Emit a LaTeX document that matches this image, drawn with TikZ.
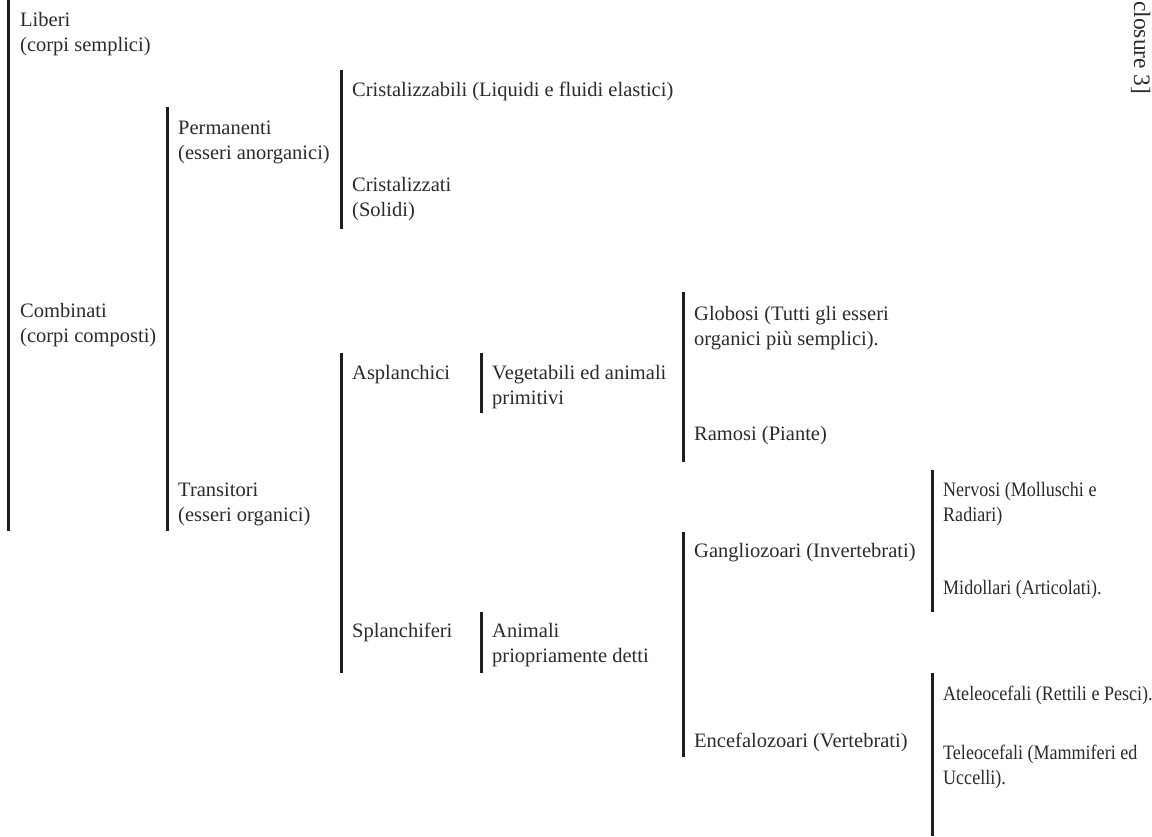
\documentclass[tikz,border=0pt]{standalone}
\usepackage{fontspec}
\setmainfont{Liberation Serif}
\usepackage{graphicx}
\definecolor{ink}{HTML}{2B2B2B}
\definecolor{barc}{HTML}{1E1E1E}
\newcommand{\twol}[1]{\begin{tabular}[t]{@{}l@{}}#1\end{tabular}}
\newcommand{\cnd}[1]{\scalebox{0.88}[1]{\twol{#1}}}
\begin{document}
\begin{tikzpicture}[x=1pt,y=-1pt,
  lbl/.style={anchor=base west, inner sep=0pt, text=ink, font=\fontsize{20.5}{25}\selectfont},
  bar/.style={draw=barc, line width=3pt}]
\useasboundingbox (0,0) rectangle (1152,836);
% bars
\draw[bar] (8,0) -- (8,531);
\draw[bar] (167,107) -- (167,531);
\draw[bar] (341,70) -- (341,229);
\draw[bar] (341,353) -- (341,673);
\draw[bar] (481,353) -- (481,413);
\draw[bar] (481,612) -- (481,673);
\draw[bar] (683,292) -- (683,462);
\draw[bar] (683,532) -- (683,757);
\draw[bar] (932,470) -- (932,612);
\draw[bar] (932,673) -- (932,836);
% labels
\node[lbl] (liberi) at (20,26) {\twol{Liberi\\(corpi semplici)}};
\node[lbl] (combinati) at (20,317) {\twol{Combinati\\(corpi composti)}};
\node[lbl] (perm) at (178,134) {\twol{Permanenti\\(esseri anorganici)}};
\node[lbl] (trans) at (178,496) {\twol{Transitori\\(esseri organici)}};
\node[lbl] (crz) at (352,96) {Cristalizzabili (Liquidi e fluidi elastici)};
\node[lbl] (crt) at (352,191) {\twol{Cristalizzati\\(Solidi)}};
\node[lbl] (aspl) at (352,379) {Asplanchici};
\node[lbl] (splan) at (352,637) {Splanchiferi};
\node[lbl] (veg) at (492,379) {\twol{Vegetabili ed animali\\primitivi}};
\node[lbl] (anim) at (492,637) {\twol{Animali\\priopriamente detti}};
\node[lbl] (glob) at (694,320) {\twol{Globosi (Tutti gli esseri\\organici più semplici).}};
\node[lbl] (ram) at (694,440) {Ramosi (Piante)};
\node[lbl] (gang) at (694,557) {Gangliozoari (Invertebrati)};
\node[lbl] (ence) at (694,747) {Encefalozoari (Vertebrati)};
\node[lbl] (nerv) at (943,496) {\cnd{Nervosi (Molluschi e\\Radiari)}};
\node[lbl] (mid) at (943,594) {\cnd{Midollari (Articolati).}};
\node[lbl] (atel) at (943,700) {\cnd{Ateleocefali (Rettili e Pesci).}};
\node[lbl] (tele) at (943,759) {\cnd{Teleocefali (Mammiferi ed\\Uccelli).}};
\node[lbl, rotate=-90, anchor=base west, font=\fontsize{23.5}{28}\selectfont] (encl) at (1134,1) {closure 3]};
\end{tikzpicture}
\end{document}
